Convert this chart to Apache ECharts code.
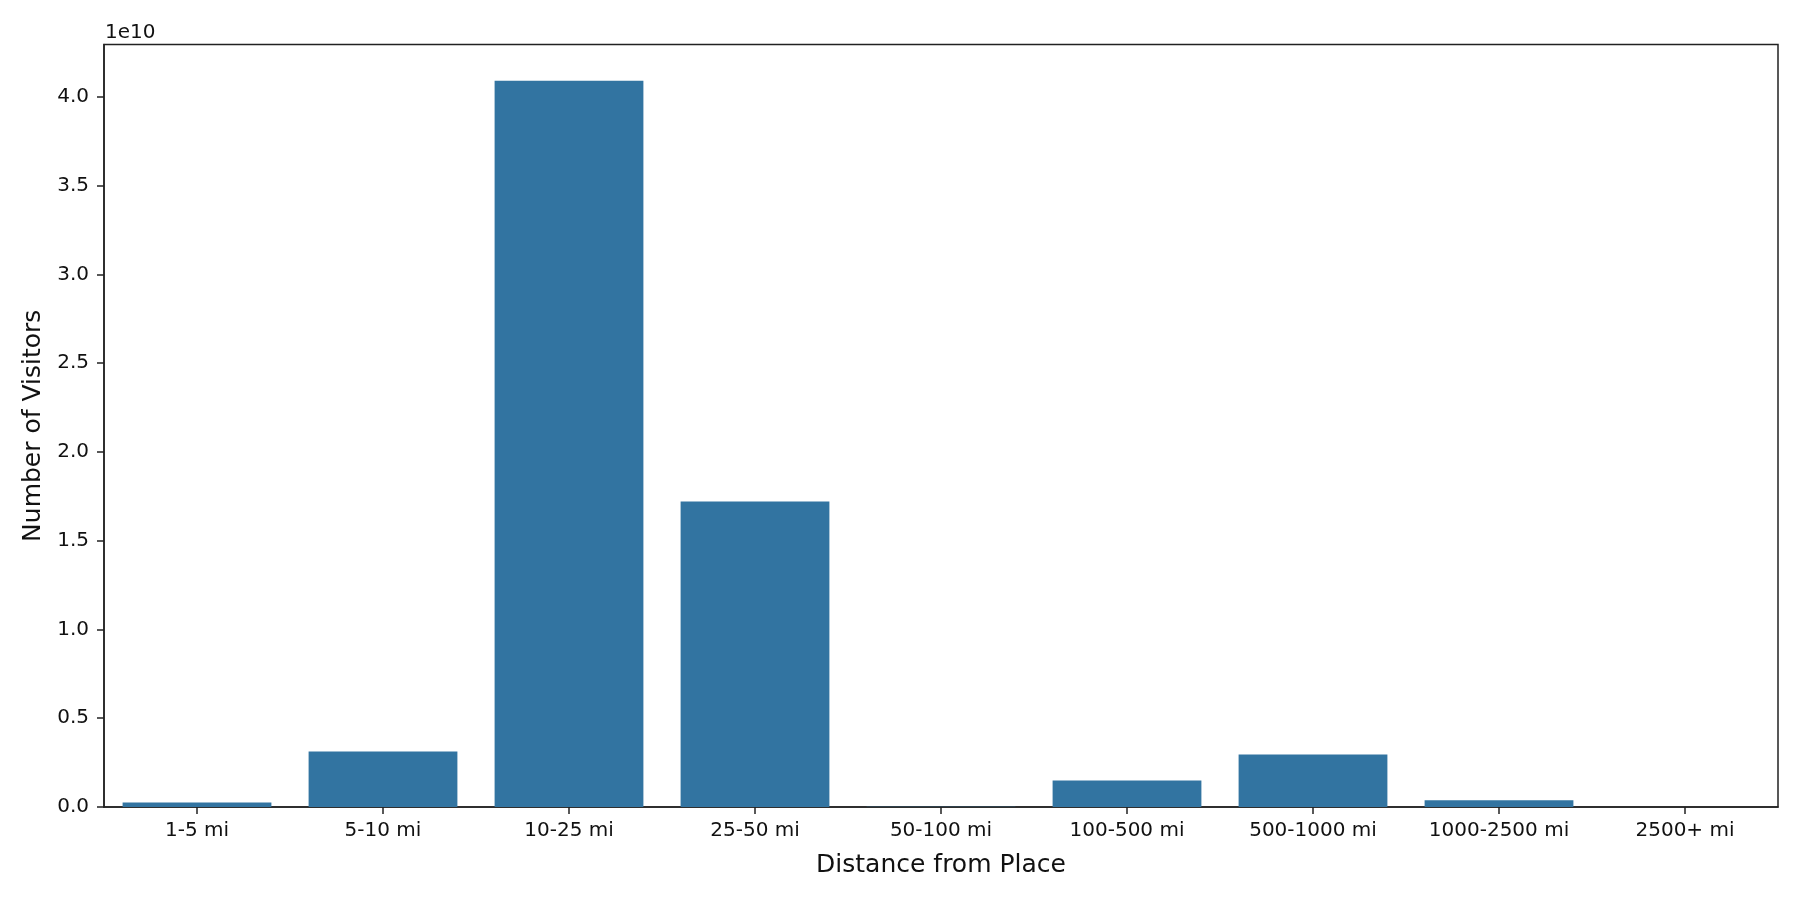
<!DOCTYPE html>
<html>
<head>
<meta charset="utf-8">
<script src="https://cdn.jsdelivr.net/npm/echarts@6/dist/echarts.min.js"></script>
<style>
html,body{margin:0;padding:0;background:#fff;}
#chart{width:1800px;height:900px;}
</style>
</head>
<body>
<div id="chart"></div>
<script>
const categories = ['1-5 mi','5-10 mi','10-25 mi','25-50 mi','50-100 mi','100-500 mi','500-1000 mi','1000-2500 mi','2500+ mi'];
const visitors = [2.6e8, 3.13e9, 4.09e10, 1.72e10, 2e7, 1.49e9, 2.96e9, 3.8e8, 5e6];
const yTickStep = 0.5e10;
const yMax = 4.2945e10;
const scaleExp = '1e10';

const font = 'DejaVu Sans';
const chart = echarts.init(document.getElementById('chart'), null, {renderer:'canvas'});
chart.setOption({
  animation:false,
  backgroundColor:'#ffffff',
  grid:{left:104, right:22, top:44.5, bottom:93, show:true, borderColor:'#222', borderWidth:1.5, backgroundColor:'transparent'},
  graphic:[{type:'text', left:105, top:23, style:{text:scaleExp, font:'20px "DejaVu Sans"', fill:'#111'}}],
  xAxis:{
    type:'category', data:categories,
    name:'Distance from Place', nameLocation:'middle', nameGap:46,
    nameTextStyle:{fontFamily:font, fontSize:25, color:'#111'},
    axisLine:{show:true, lineStyle:{color:'#222', width:1.5}},
    axisTick:{show:true, alignWithLabel:true, interval:0, length:7, lineStyle:{color:'#222', width:1.5}},
    axisLabel:{fontFamily:font, fontSize:20, color:'#111', margin:14, interval:0, hideOverlap:false},
    splitLine:{show:false}
  },
  yAxis:{
    type:'value', min:0, max:yMax, interval:yTickStep,
    name:'Number of Visitors', nameLocation:'middle', nameGap:57,
    nameTextStyle:{fontFamily:font, fontSize:25, color:'#111'},
    axisLine:{show:true, lineStyle:{color:'#222', width:1.5}},
    axisTick:{show:true, length:7, lineStyle:{color:'#222', width:1.5}},
    axisLabel:{fontFamily:font, fontSize:20, color:'#111', margin:15, showMaxLabel:false,
      formatter:v=>(v/1e10).toFixed(1)},
    splitLine:{show:false}
  },
  series:[{
    type:'bar', data:visitors, barWidth:'80%',
    itemStyle:{color:'#3274a1'}
  }]
});
</script>
</body>
</html>
